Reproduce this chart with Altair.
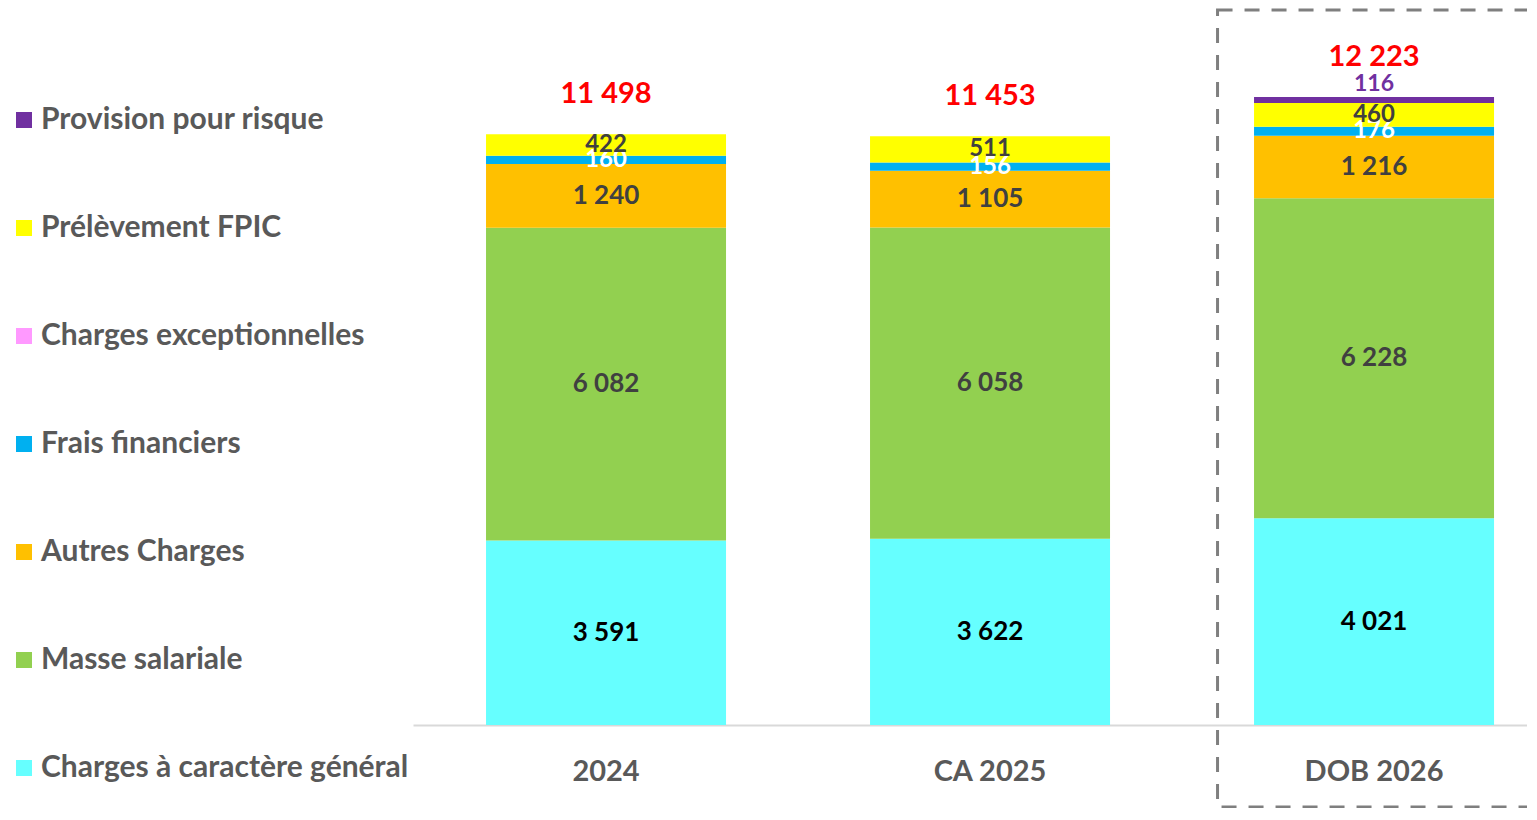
import altair as alt
import pandas as pd

# ---------------- data ----------------
categories = ["2024", "CA 2025", "DOB 2026"]
series_stack = [  # bottom -> top
    "Charges à caractère général",
    "Masse salariale",
    "Autres Charges",
    "Frais financiers",
    "Charges exceptionnelles",
    "Prélèvement FPIC",
    "Provision pour risque",
]
charges_generales = [3591, 3622, 4021]
masse_salariale = [6082, 6058, 6228]
autres_charges = [1240, 1105, 1216]
frais_financiers = [160, 156, 176]
charges_exceptionnelles = [0, 0, 0]
prelevement_fpic = [422, 511, 460]
provision_risque = [0, 0, 116]
totals = [11498, 11453, 12223]

series_values = [
    charges_generales, masse_salariale, autres_charges, frais_financiers,
    charges_exceptionnelles, prelevement_fpic, provision_risque,
]

legend_order = list(reversed(series_stack))
legend_colors = ["#7030a0", "#ffff00", "#ff99ff", "#00b0f0", "#ffc000", "#92d050", "#66ffff"]

rows = []
for k, (s, vals) in enumerate(zip(series_stack, series_values)):
    for c, v in zip(categories, vals):
        rows.append({"cat": c, "series": s, "k": k, "value": v})
df = pd.DataFrame(rows)
df_tot = pd.DataFrame({"cat": categories, "total": totals})
df_box = pd.DataFrame({"cat": ["DOB 2026"]})

FONT = "Lato"

xenc = alt.X(
    "cat:N", sort=categories, title=None,
    scale=alt.Scale(paddingInner=0.375, paddingOuter=0.138, align=0.689),
    axis=alt.Axis(labelFont=FONT, labelFontSize=29, labelFontWeight="bold",
                  labelColor="#595959", labelAngle=0, ticks=False, labelPadding=32,
                  domainColor="#d9d9d9", domainWidth=2, grid=False),
)
yscale = alt.Scale(domain=[0, 13910], nice=False, zero=True)

base = (
    alt.Chart(df)
    .transform_stack(stack="value", groupby=["cat"],
                     sort=[alt.SortField("k", order="ascending")], as_=["y0", "y1"])
    .transform_calculate(mid="(datum.y0 + datum.y1) / 2",
                         lab="replace(format(datum.value, ','), ',', ' ')")
)

bars = base.mark_bar().encode(
    x=xenc,
    y=alt.Y("y0:Q", scale=yscale, axis=None),
    y2="y1:Q",
    color=alt.Color(
        "series:N",
        scale=alt.Scale(domain=legend_order, range=legend_colors),
        legend=alt.Legend(
            title=None, orient="none", legendX=-404, legendY=95, direction="vertical",
            symbolType="square", symbolSize=256, symbolStrokeWidth=0, symbolOpacity=1,
            labelFont=FONT, labelFontSize=30, labelFontWeight="bold", labelColor="#595959",
            labelOffset=2, labelLimit=0, rowPadding=78, padding=0,
        ),
    ),
)

big = ["Charges à caractère général", "Masse salariale", "Autres Charges"]
small = ["Frais financiers", "Prélèvement FPIC"]

labels_big = base.transform_filter(
    alt.FieldOneOfPredicate(field="series", oneOf=big)
).mark_text(font=FONT, fontSize=26, fontWeight="bold", baseline="middle").encode(
    x=alt.X("cat:N", sort=categories),
    y=alt.Y("mid:Q", scale=yscale),
    text="lab:N",
    color=alt.condition("datum.series == 'Charges à caractère général'",
                        alt.value("#000000"), alt.value("#404040")),
)

labels_small = base.transform_filter(
    alt.FieldOneOfPredicate(field="series", oneOf=small)
).mark_text(font=FONT, fontSize=24, fontWeight="bold", baseline="middle").encode(
    x=alt.X("cat:N", sort=categories),
    y=alt.Y("mid:Q", scale=yscale),
    text="lab:N",
    color=alt.condition("datum.series == 'Frais financiers'",
                        alt.value("#ffffff"), alt.value("#404040")),
)

labels_prov = base.transform_filter(
    "datum.series == 'Provision pour risque' && datum.value > 0"
).mark_text(font=FONT, fontSize=23, fontWeight="bold", baseline="middle", dy=-13,
            color="#7030a0").encode(
    x=alt.X("cat:N", sort=categories),
    y=alt.Y("y1:Q", scale=yscale),
    text="lab:N",
)

totals_text = alt.Chart(df_tot).transform_calculate(
    lab="replace(format(datum.total, ','), ',', ' ')"
).mark_text(font=FONT, fontSize=29, fontWeight="bold", baseline="middle", dy=-40,
            color="#ff0000").encode(
    x=alt.X("cat:N", sort=categories),
    y=alt.Y("total:Q", scale=yscale),
    text="lab:N",
)

box = alt.Chart(df_box).mark_bar(
    filled=False, stroke="#7f7f7f", strokeWidth=3, strokeDash=[15, 12], width=313
).encode(
    x=alt.X("cat:N", sort=categories),
    y=alt.value(0),
    y2=alt.value(797),
)

chart = (
    alt.layer(bars, box, labels_big, labels_small, labels_prov, totals_text)
    .properties(
        width=1114, height=715,
        padding={"left": 405, "top": 2, "right": 0, "bottom": 83},
        autosize=alt.AutoSizeParams(type="none"),
    )
    .configure_view(strokeWidth=0)
)

chart.save("out.html", embed_options={"renderer": "svg", "actions": False})
